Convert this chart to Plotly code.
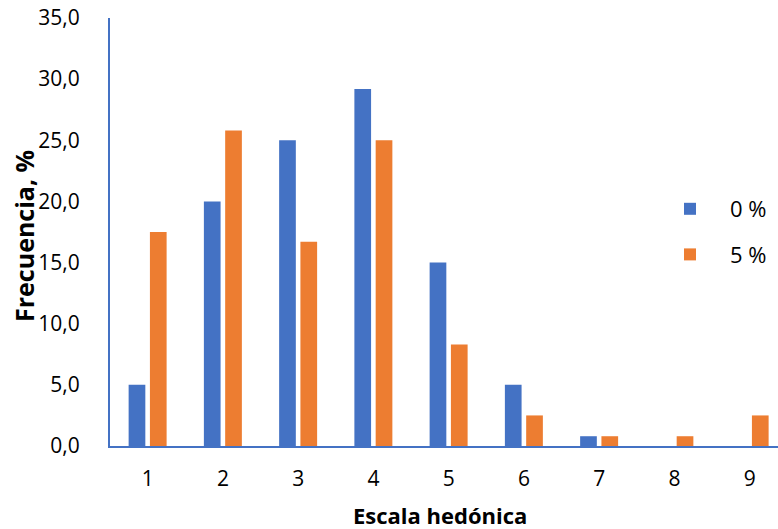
import plotly.graph_objects as go

categories = [1, 2, 3, 4, 5, 6, 7, 8, 9]
tick_labels = ["1", "2", "3", "4", "5", "6", "7", "8", "9"]
serie_0 = [5.0, 20.0, 25.0, 29.2, 15.0, 5.0, 0.8, 0.0, 0.0]
serie_5 = [17.5, 25.8, 16.7, 25.0, 8.3, 2.5, 0.8, 0.8, 2.5]
names = ["0 %", "5 %"]

BLUE = "#4472C4"
ORANGE = "#ED7D31"
FONT = "Open Sans, Liberation Sans, sans-serif"

L, T, W, H = 110, 18, 778, 529
PW = W - L
PH = 428
B = H - T - PH

fig = go.Figure()
fig.add_bar(x=categories, y=serie_0, name=names[0], legendgroup="a",
            marker=dict(color=BLUE, line=dict(width=0)))
fig.add_bar(x=categories, y=serie_5, name=names[1], legendgroup="b",
            marker=dict(color=ORANGE, line=dict(width=0)))

fig.update_layout(
    width=W, height=H,
    margin=dict(l=L, r=0, t=T, b=B, autoexpand=False),
    plot_bgcolor="white", paper_bgcolor="white",
    barmode="group", bargap=0.434, bargroupgap=0.216,
    separators=",.",
    font=dict(family=FONT, color="#000000", size=20),
    legend=dict(
        x=(650 - L) / PW, y=0.5, xanchor="left", yanchor="middle",
        font=dict(size=22, family=FONT),
        bgcolor="rgba(0,0,0,0)", tracegroupgap=14, itemwidth=70,
    ),
    showlegend=True,
    annotations=[
        dict(text="<b>Escala hedónica</b>", xref="paper", yref="paper",
             x=(440 - L) / PW, y=(T + PH - 515) / PH, xanchor="center", yanchor="middle",
             showarrow=False, font=dict(size=22, family=FONT)),
        dict(text="<b>Frecuencia, %</b>", xref="paper", yref="paper",
             x=(24 - L) / PW, y=(T + PH - 236) / PH, xanchor="center", yanchor="middle",
             textangle=-90, showarrow=False, font=dict(size=25, family=FONT)),
    ],
)
fig.update_xaxes(
    range=[0.5, 0.5 + PW / 75.25], tickvals=categories, ticktext=tick_labels,
    showgrid=False, zeroline=False, showline=True, linecolor=BLUE, linewidth=2,
    ticks="", ticklabelstandoff=13, tickfont=dict(size=21), automargin=False,
)
fig.update_yaxes(
    range=[0, 35], dtick=5, tickformat=".1f", ticklabeloverflow="allow",
    showgrid=False, zeroline=False, showline=True, linecolor=BLUE, linewidth=2,
    ticks="", ticklabelstandoff=24, tickfont=dict(size=21), automargin=False,
)

fig.write_html("out.html", config={"displayModeBar": False},
               post_script="document.body.style.margin='0';")
